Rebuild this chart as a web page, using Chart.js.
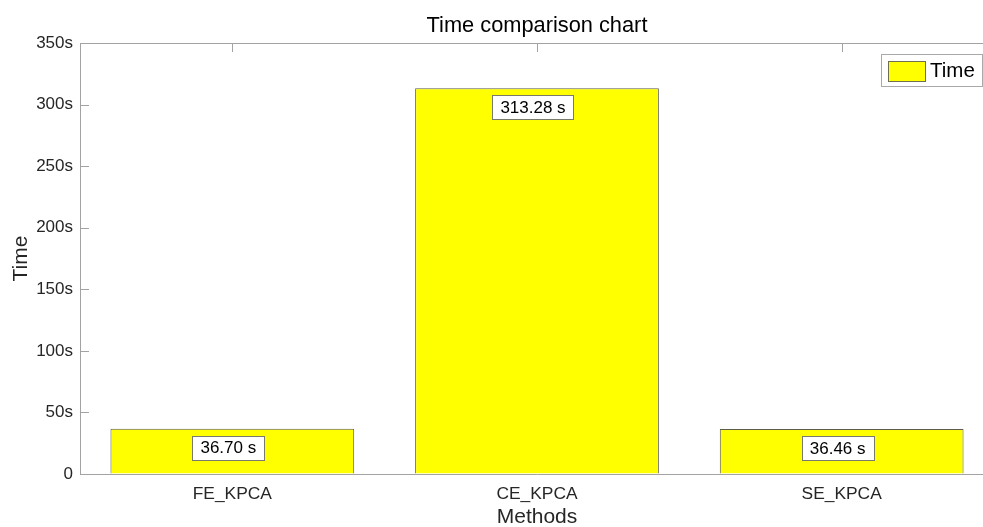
<!DOCTYPE html>
<html>
<head>
<meta charset="utf-8">
<script src="https://cdn.jsdelivr.net/npm/chart.js@4"></script>
<style>
html,body{margin:0;padding:0;overflow:hidden;background:#fff;}
#wrap{width:1000px;height:527px;}
</style>
</head>
<body>
<div id="wrap"><canvas id="c" width="1000" height="527"></canvas></div>
<script>
const categories = ['FE_KPCA', 'CE_KPCA', 'SE_KPCA'];
const timeValues = [36.70, 313.28, 36.46];
const valueLabels = ['36.70 s', '313.28 s', '36.46 s'];
const yTicks = [0, 50, 100, 150, 200, 250, 300, 350];
const seriesName = 'Time';
const chartTitle = 'Time comparison chart';
const xTitle = 'Methods';
const yTitle = 'Time';

const FONT = '"Liberation Sans", Arial, sans-serif';
const AXIS = '#a3a3a3';

const overlay = {
  id: 'overlay',
  beforeDatasetsDraw(chart) {
    const ctx = chart.ctx, a = chart.chartArea;
    const x = chart.scales.x, y = chart.scales.y;
    ctx.save();
    ctx.strokeStyle = AXIS;
    ctx.lineWidth = 1;
    ctx.beginPath();
    ctx.moveTo(a.left, Math.round(a.top) + 0.5);
    ctx.lineTo(a.right, Math.round(a.top) + 0.5);
    yTicks.forEach(v => {
      const py = Math.round(y.getPixelForValue(v)) + 0.5;
      ctx.moveTo(a.left, py); ctx.lineTo(a.left + 9, py);
    });
    categories.forEach((c, i) => {
      const px = Math.round(x.getPixelForValue(i)) + 0.5;
      ctx.moveTo(px, a.top); ctx.lineTo(px, a.top + 9);
    });
    ctx.stroke();
    ctx.restore();
  },
  afterDraw(chart) {
    const ctx = chart.ctx, a = chart.chartArea;
    const meta = chart.getDatasetMeta(0);
    ctx.save();
    ctx.font = '17px ' + FONT;
    ctx.textAlign = 'center';
    ctx.textBaseline = 'middle';
    meta.data.forEach((bar, i) => {
      const cx = bar.x - 4;
      const cy = bar.y + 19;
      const t = valueLabels[i];
      const w = ctx.measureText(t).width + 16;
      const h = 24;
      ctx.fillStyle = '#ffffff';
      ctx.fillRect(Math.round(cx - w / 2), Math.round(cy - h / 2), Math.round(w), h);
      ctx.strokeStyle = '#7a7a6a';
      ctx.lineWidth = 1;
      ctx.strokeRect(Math.round(cx - w / 2) + 0.5, Math.round(cy - h / 2) + 0.5, Math.round(w), h);
      ctx.fillStyle = '#000000';
      ctx.fillText(t, cx, cy + 1);
    });
    ctx.fillStyle = '#000000';
    ctx.font = '21.8px ' + FONT;
    ctx.textBaseline = 'alphabetic';
    ctx.fillText(chartTitle, (a.left + a.right) / 2, 32);
    ctx.fillStyle = '#262626';
    ctx.font = '21px ' + FONT;
    ctx.textBaseline = 'alphabetic';
    ctx.fillText(xTitle, (a.left + a.right) / 2, 523);
    ctx.save();
    ctx.translate(21, (a.top + a.bottom) / 2);
    ctx.rotate(-Math.PI / 2);
    ctx.textBaseline = 'middle';
    ctx.fillText(yTitle, 0, 0);
    ctx.restore();
    ctx.fillStyle = '#ffffff';
    ctx.fillRect(881, 54, 101, 32);
    ctx.strokeStyle = '#a8a8a8';
    ctx.strokeRect(881.5, 54.5, 101, 32);
    ctx.fillStyle = '#ffff00';
    ctx.fillRect(888, 61, 37, 20);
    ctx.strokeStyle = '#6e6e50';
    ctx.strokeRect(888.5, 61.5, 37, 20);
    ctx.fillStyle = '#000000';
    ctx.font = '20.5px ' + FONT;
    ctx.textAlign = 'left';
    ctx.textBaseline = 'middle';
    ctx.fillText(seriesName, 930, 71);
    ctx.restore();
  }
};

new Chart(document.getElementById('c'), {
  type: 'bar',
  data: {
    labels: categories,
    datasets: [{
      label: seriesName,
      data: timeValues,
      backgroundColor: '#ffff00',
      borderColor: '#5c5c48',
      borderWidth: 1,
      barPercentage: 0.8,
      categoryPercentage: 1.0
    }]
  },
  options: {
    responsive: false,
    animation: false,
    layout: { padding: { top: 43, right: 6, left: 0, bottom: 0 } },
    plugins: { legend: { display: false }, title: { display: false }, tooltip: { enabled: false } },
    scales: {
      x: {
        type: 'category',
        grid: { display: true, drawOnChartArea: false, drawTicks: false, color: 'rgba(0,0,0,0)' },
        border: { display: true, color: AXIS, width: 1 },
        ticks: { font: { size: 17.4, family: FONT }, color: '#262626', padding: 10, maxRotation: 0 },
        afterFit(s) { s.height = 53; }
      },
      y: {
        min: 0, max: 350,
        afterBuildTicks(s) { s.ticks = yTicks.map(v => ({ value: v })); },
        grid: { display: true, drawOnChartArea: false, drawTicks: false, color: 'rgba(0,0,0,0)' },
        border: { display: true, color: AXIS, width: 1 },
        ticks: {
          font: { size: 17, family: FONT }, color: '#262626', padding: 7,
          callback: v => v === 0 ? '0' : v + 's'
        },
        afterFit(s) { s.width = 80; }
      }
    }
  },
  plugins: [overlay]
});
</script>
</body>
</html>
